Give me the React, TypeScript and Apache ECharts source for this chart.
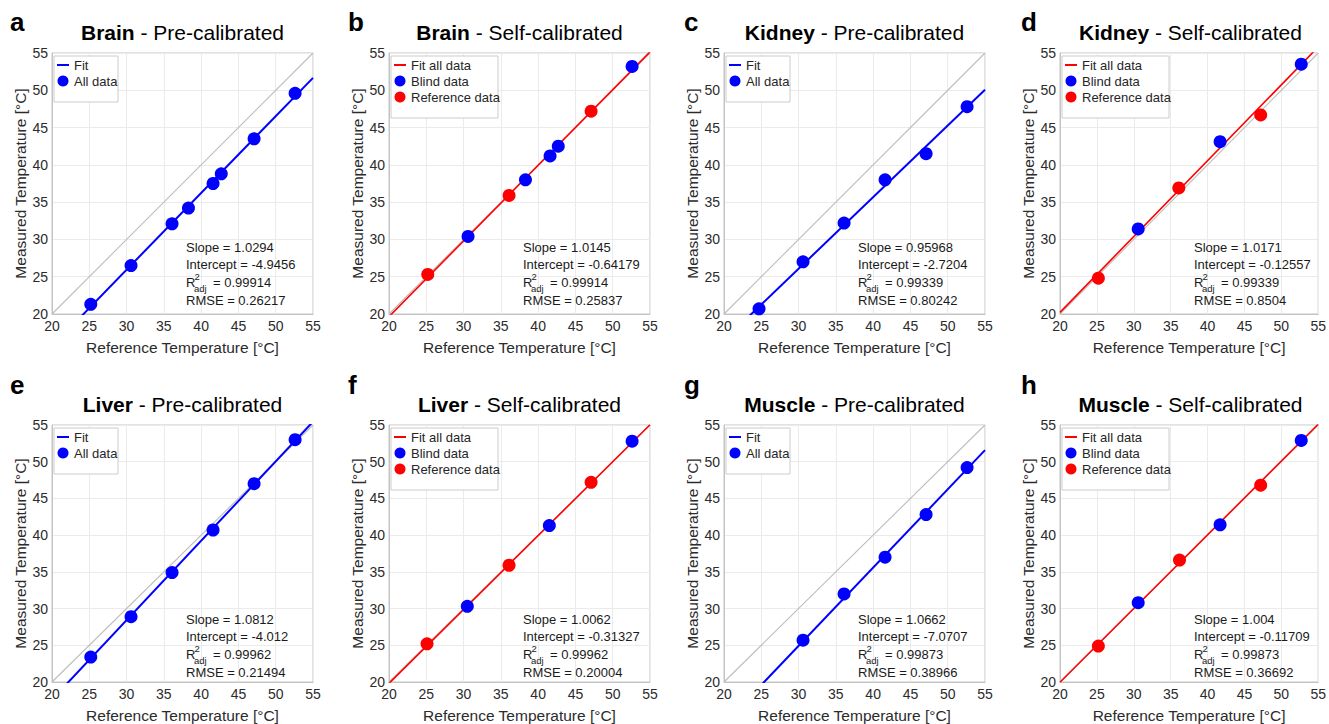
import React, { useEffect, useRef } from "react";
import * as echarts from "echarts";

const FONT = "'Liberation Sans', Arial, Helvetica, sans-serif";

// ---------- panel metadata ----------
const panelLetters = ["a", "b", "c", "d", "e", "f", "g", "h"];
const tissues = ["Brain", "Brain", "Kidney", "Kidney", "Liver", "Liver", "Muscle", "Muscle"];
const modes = [
  "Pre-calibrated", "Self-calibrated", "Pre-calibrated", "Self-calibrated",
  "Pre-calibrated", "Self-calibrated", "Pre-calibrated", "Self-calibrated",
];
const isSelf = [false, true, false, true, false, true, false, true];

// ---------- axes ----------
const AXIS_MIN = 20;
const AXIS_MAX = 55;
const AXIS_STEP = 5;
const xAxisName = "Reference Temperature [°C]";
const yAxisName = "Measured Temperature [°C]";

// ---------- data (reference temperature, measured temperature) ----------
// a: Brain pre-calibrated
const brainPreX = [25.2, 30.6, 36.1, 38.3, 41.6, 42.7, 47.1, 52.6];
const brainPreY = [21.3, 26.5, 32.1, 34.2, 37.5, 38.8, 43.5, 49.6];
// b: Brain self-calibrated
const brainSelfBlindX = [30.6, 38.3, 41.6, 42.7, 52.6];
const brainSelfBlindY = [30.4, 38.0, 41.2, 42.5, 53.2];
const brainSelfRefX = [25.2, 36.1, 47.1];
const brainSelfRefY = [25.3, 35.9, 47.2];
// c: Kidney pre-calibrated
const kidneyPreX = [24.7, 30.6, 36.1, 41.6, 47.1, 52.6];
const kidneyPreY = [20.7, 27.0, 32.2, 38.0, 41.5, 47.8];
// d: Kidney self-calibrated
const kidneySelfBlindX = [30.6, 41.7, 52.7];
const kidneySelfBlindY = [31.4, 43.1, 53.5];
const kidneySelfRefX = [25.2, 36.1, 47.2];
const kidneySelfRefY = [24.8, 36.9, 46.7];
// e: Liver pre-calibrated
const liverPreX = [25.2, 30.6, 36.1, 41.6, 47.1, 52.6];
const liverPreY = [23.4, 28.9, 34.9, 40.7, 47.0, 53.0];
// f: Liver self-calibrated
const liverSelfBlindX = [30.5, 41.5, 52.6];
const liverSelfBlindY = [30.3, 41.3, 52.8];
const liverSelfRefX = [25.1, 36.1, 47.1];
const liverSelfRefY = [25.2, 35.9, 47.2];
// g: Muscle pre-calibrated
const musclePreX = [30.6, 36.1, 41.6, 47.1, 52.6];
const musclePreY = [25.7, 32.0, 37.0, 42.8, 49.2];
// h: Muscle self-calibrated
const muscleSelfBlindX = [30.6, 41.7, 52.7];
const muscleSelfBlindY = [30.8, 41.4, 52.9];
const muscleSelfRefX = [25.2, 36.2, 47.2];
const muscleSelfRefY = [24.9, 36.6, 46.8];

// ---------- fit statistics ----------
const slopes = [1.0294, 1.0145, 0.95968, 1.0171, 1.0812, 1.0062, 1.0662, 1.004];
const intercepts = [-4.9456, -0.64179, -2.7204, -0.12557, -4.012, -0.31327, -7.0707, -0.11709];
const slopeLabels = ["1.0294", "1.0145", "0.95968", "1.0171", "1.0812", "1.0062", "1.0662", "1.004"];
const interceptLabels = ["-4.9456", "-0.64179", "-2.7204", "-0.12557", "-4.012", "-0.31327", "-7.0707", "-0.11709"];
const r2Labels = ["0.99914", "0.99914", "0.99339", "0.99339", "0.99962", "0.99962", "0.99873", "0.99873"];
const rmseLabels = ["0.26217", "0.25837", "0.80242", "0.8504", "0.21494", "0.20004", "0.38966", "0.36692"];

const preLegend = ["Fit", "All data"];
const selfLegend = ["Fit all data", "Blind data", "Reference data"];

const BLUE = "#0000ff";
const RED = "#ff0000";

type PanelData = { blue: [number[], number[]]; red?: [number[], number[]] };
const panelData: PanelData[] = [
  { blue: [brainPreX, brainPreY] },
  { blue: [brainSelfBlindX, brainSelfBlindY], red: [brainSelfRefX, brainSelfRefY] },
  { blue: [kidneyPreX, kidneyPreY] },
  { blue: [kidneySelfBlindX, kidneySelfBlindY], red: [kidneySelfRefX, kidneySelfRefY] },
  { blue: [liverPreX, liverPreY] },
  { blue: [liverSelfBlindX, liverSelfBlindY], red: [liverSelfRefX, liverSelfRefY] },
  { blue: [musclePreX, musclePreY] },
  { blue: [muscleSelfBlindX, muscleSelfBlindY], red: [muscleSelfRefX, muscleSelfRefY] },
];

// ---------- layout ----------
const colLeft = [52, 389, 724, 1060];
const rowTop = [53, 425];
const PW = 261;
const PH = 261;
const letterX = [10, 348, 684, 1021];
const letterBaseline = [31, 394.5];
const titleBaseline = [39.5, 412];

const pairs = (xs: number[], ys: number[]) => xs.map((x, k) => [x, ys[k]]);

export default function App() {
  const ref = useRef<HTMLDivElement>(null);

  useEffect(() => {
    document.body.style.margin = "0";
    if (!ref.current) return;
    const chart = echarts.init(ref.current, undefined, { renderer: "svg" });

    const grids: any[] = [];
    const xAxes: any[] = [];
    const yAxes: any[] = [];
    const series: any[] = [];
    const graphics: any[] = [];

    for (let i = 0; i < 8; i++) {
      const row = Math.floor(i / 4);
      const col = i % 4;
      const L = colLeft[col];
      const T = rowTop[row];
      const self = isSelf[i];

      grids.push({
        left: L, top: T, width: PW, height: PH,
        show: true, borderColor: "#c4c4c4", borderWidth: 1, backgroundColor: "#ffffff",
        containLabel: false,
      });
      const axisCommon = {
        type: "value", gridIndex: i, min: AXIS_MIN, max: AXIS_MAX, interval: AXIS_STEP,
        nameLocation: "middle",
        nameTextStyle: { fontSize: 15.5, color: "#2b2b2b", fontFamily: FONT },
        axisLine: { show: true, lineStyle: { color: "#c4c4c4", width: 1 } },
        axisTick: { show: false },
        splitLine: { show: true, lineStyle: { color: "#ebebeb", width: 1 } },
      };
      xAxes.push({
        ...axisCommon, name: xAxisName, nameGap: 25,
        axisLabel: { fontSize: 14, color: "#2b2b2b", fontFamily: FONT, margin: 5 },
      });
      yAxes.push({
        ...axisCommon, name: yAxisName, nameGap: 22,
        axisLabel: { fontSize: 14, color: "#2b2b2b", fontFamily: FONT, margin: 4 },
      });

      // identity line
      series.push({
        type: "line", xAxisIndex: i, yAxisIndex: i, silent: true, symbol: "none",
        data: [[AXIS_MIN, AXIS_MIN], [AXIS_MAX, AXIS_MAX]],
        lineStyle: { color: "#bdbdbd", width: 1.1 }, z: 1,
      });
      // fit line
      const s = slopes[i], b = intercepts[i];
      series.push({
        type: "line", xAxisIndex: i, yAxisIndex: i, silent: true, symbol: "none", clip: true,
        name: self ? selfLegend[0] : preLegend[0],
        data: [[AXIS_MIN, s * AXIS_MIN + b], [AXIS_MAX, s * AXIS_MAX + b]],
        lineStyle: { color: self ? RED : BLUE, width: self ? 1.6 : 2 }, z: 2,
      });
      const pd = panelData[i];
      series.push({
        type: "scatter", xAxisIndex: i, yAxisIndex: i, symbolSize: 13,
        name: self ? selfLegend[1] : preLegend[1],
        data: pairs(pd.blue[0], pd.blue[1]),
        itemStyle: { color: BLUE, opacity: 1 }, z: 3,
      });
      if (pd.red) {
        series.push({
          type: "scatter", xAxisIndex: i, yAxisIndex: i, symbolSize: 13,
          name: selfLegend[2],
          data: pairs(pd.red[0], pd.red[1]),
          itemStyle: { color: RED, opacity: 1 }, z: 3,
        });
      }

      // panel letter
      graphics.push({
        type: "text", z: 100,
        x: letterX[col], y: letterBaseline[row] - 0.35 * 26,
        style: {
          text: panelLetters[i], font: `bold 26px ${FONT}`, fill: "#000",
          textAlign: "left", textVerticalAlign: "middle",
        },
      });
      // title
      graphics.push({
        type: "text", z: 100,
        x: L + PW / 2, y: titleBaseline[row] - 0.35 * 21,
        style: {
          text: `{b|${tissues[i]}}{n| - ${modes[i]}}`,
          rich: {
            b: { fontWeight: "bold", fontSize: 21, fontFamily: FONT, fill: "#000" },
            n: { fontSize: 21, fontFamily: FONT, fill: "#000" },
          },
          textAlign: "center", textVerticalAlign: "middle",
        },
      });

      // legend
      const items = self ? selfLegend : preLegend;
      const boxW = self ? 107 : 64;
      const lx = L + 2, ly = T + 3;
      graphics.push({
        type: "rect", z: 100,
        shape: { x: lx, y: ly, width: boxW, height: 14 + items.length * 16 },
        style: { fill: "#ffffff", stroke: "#cccccc", lineWidth: 1 },
      });
      items.forEach((name, k) => {
        const cy = T + 12 + k * 16;
        if (k === 0) {
          graphics.push({
            type: "line", z: 101,
            shape: { x1: L + 5, y1: cy, x2: L + 17, y2: cy },
            style: { stroke: self ? RED : BLUE, lineWidth: 2 },
          });
        } else {
          const c = self && k === 2 ? RED : BLUE;
          graphics.push({
            type: "circle", z: 101,
            shape: { cx: L + 11, cy, r: 5.5 },
            style: { fill: c },
          });
        }
        graphics.push({
          type: "text", z: 101, x: L + 22, y: cy,
          style: {
            text: name, font: `13px ${FONT}`, fill: "#262626",
            textAlign: "left", textVerticalAlign: "middle",
          },
        });
      });

      // statistics annotation
      const ax = L + 134;
      const mk = (text: string, x: number, y: number, size = 13) => ({
        type: "text", z: 100, x, y,
        style: { text, font: `${size}px ${FONT}`, fill: "#1a1a1a", textAlign: "left", textVerticalAlign: "middle" },
      });
      graphics.push(mk(`Slope = ${slopeLabels[i]}`, ax, T + 194));
      graphics.push(mk(`Intercept = ${interceptLabels[i]}`, ax, T + 211.5));
      graphics.push(mk("R", ax, T + 229));
      graphics.push(mk("2", ax + 8.5, T + 223.5, 9.5));
      graphics.push(mk("adj", ax + 8, T + 235, 9.5));
      graphics.push(mk(`= ${r2Labels[i]}`, ax + 27, T + 229));
      graphics.push(mk(`RMSE = ${rmseLabels[i]}`, ax, T + 247.5));
    }

    chart.setOption({
      animation: false,
      backgroundColor: "#ffffff",
      textStyle: { fontFamily: FONT },
      grid: grids,
      xAxis: xAxes,
      yAxis: yAxes,
      series,
      graphic: graphics,
    });

    return () => chart.dispose();
  }, []);

  return <div ref={ref} style={{ width: 1329, height: 724 }} />;
}
